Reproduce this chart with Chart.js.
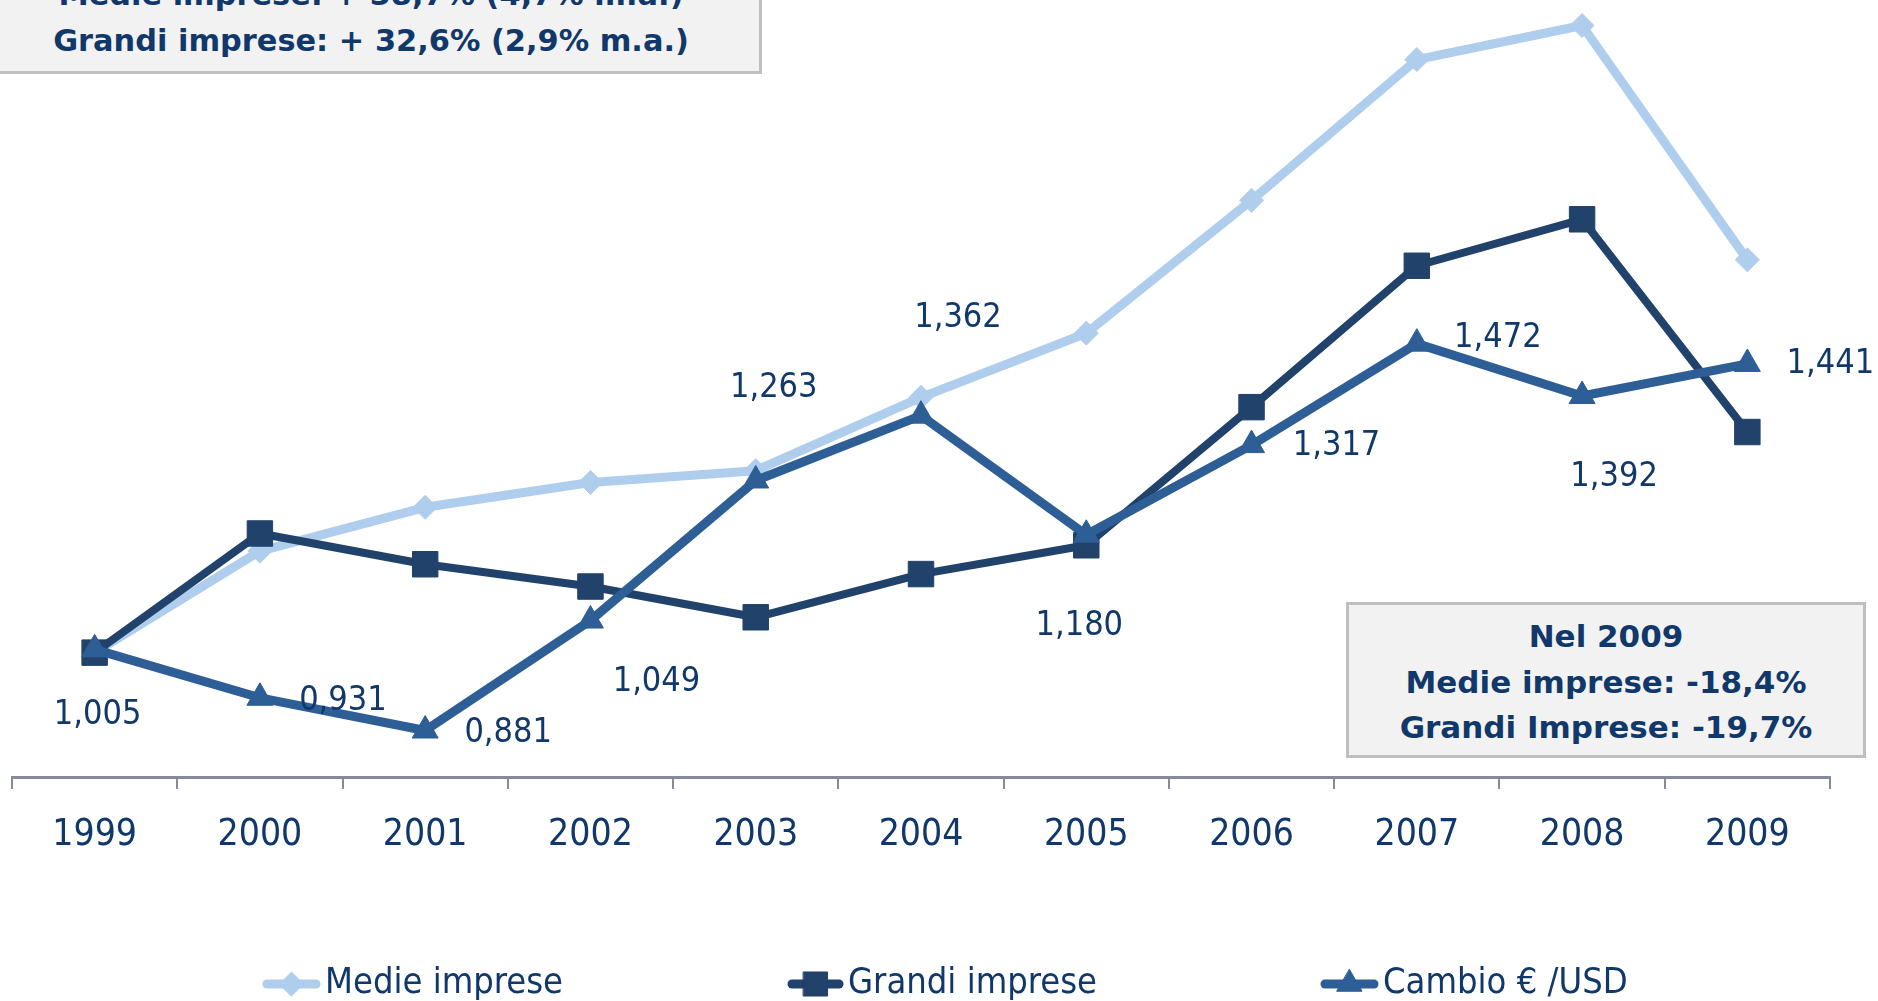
<!DOCTYPE html>
<html><head><meta charset="utf-8">
<script src="https://cdn.jsdelivr.net/npm/chart.js@4.4.1/dist/chart.umd.min.js"></script>
<style>
html,body{margin:0;padding:0;background:#fff;overflow:hidden;}
#wrap{position:relative;width:1878px;height:1001px;overflow:hidden;}
canvas{position:absolute;left:0;top:0;}
.box{position:absolute;box-sizing:border-box;background:#F2F2F2;border:3px solid #BFBFBF;color:#10386B;
 font-family:'DejaVu Sans',sans-serif;font-weight:bold;text-align:center;line-height:45.5px;white-space:nowrap;}
</style></head>
<body><div id="wrap"><canvas id="c" width="1878" height="1001"></canvas>
<div class="box" id="boxTL" style="left:-20px;top:-40px;width:782px;height:114px;font-size:30.4px;padding-top:9px;">Medie imprese: + 58,7% (4,7% m.a.)<br>Grandi imprese: + 32,6% (2,9% m.a.)</div>
<div class="box" id="boxBR" style="left:1346px;top:602px;width:520px;height:156px;font-size:31px;padding-top:9px;">Nel 2009<br>Medie imprese: -18,4%<br>Grandi Imprese: -19,7%</div>
</div>
<script>
// ---- data ----
const years = ['1999','2000','2001','2002','2003','2004','2005','2006','2007','2008','2009'];
const medie = [1.000,1.155,1.222,1.260,1.278,1.390,1.488,1.691,1.906,1.958,1.600];
const grandi = [1.000,1.182,1.135,1.101,1.054,1.120,1.164,1.375,1.591,1.662,1.337];
const cambio = [1.005,0.931,0.881,1.049,1.263,1.362,1.180,1.317,1.472,1.392,1.441];
const seriesNames = ['Medie imprese','Grandi imprese','Cambio € /USD'];

// ---- styles ----
const textColor = '#10386B';
const fam = "'DejaVu Sans Condensed','DejaVu Sans',sans-serif";
const colors = ['#AFCDEC','#21426A','#2E5E96'];
const axisColor = '#858A9C';
// label offsets (px) relative to each Cambio point
const labelOffsets = [[3,66],[83,3],[83,3],[66,62],[18,-92],[37,-97],[-7,91],[85,1],[81,-5],[32,81],[83,0]];
const legendLayout = [
  {x0:267,x1:316,tx:325,style:'rectRot',r:12},
  {x0:792,x1:839,tx:848,style:'rect',r:17},
  {x0:1325,x1:1374,tx:1383,style:'triangle',r:14.5}
];
const legendY = 984;

const fmt = v => v.toFixed(3).replace('.', ',');

const labelPlugin = {
  id:'cambioLabels',
  afterDatasetsDraw(chart){
    const meta = chart.getDatasetMeta(2);
    const ctx = chart.ctx;
    ctx.save();
    ctx.font = '34px ' + fam;
    ctx.fillStyle = textColor; ctx.textAlign = 'center'; ctx.textBaseline = 'middle';
    meta.data.forEach((pt,i)=>{
      const o = labelOffsets[i];
      ctx.fillText(fmt(cambio[i]), pt.x + o[0], pt.y + o[1]);
    });
    ctx.restore();
  }
};

const legendPlugin = {
  id:'customLegend',
  afterDraw(chart){
    const ctx = chart.ctx;
    ctx.save();
    chart.data.datasets.forEach((ds,i)=>{
      const L = legendLayout[i];
      ctx.strokeStyle = ds.borderColor; ctx.fillStyle = ds.borderColor;
      ctx.lineWidth = 9; ctx.lineCap = 'round';
      ctx.beginPath(); ctx.moveTo(L.x0, legendY); ctx.lineTo(L.x1, legendY); ctx.stroke();
      ctx.lineWidth = 1;
      Chart.helpers.drawPoint(ctx, {pointStyle:L.style, radius:L.r, borderWidth:1, rotation:0}, (L.x0+L.x1)/2, legendY);
      ctx.font = '36px ' + fam;
      ctx.fillStyle = textColor; ctx.textAlign = 'left'; ctx.textBaseline = 'middle';
      ctx.fillText(ds.label, L.tx, legendY);
    });
    ctx.restore();
  }
};

function mkDs(label, data, color, style, r, bw, order){
  return {label, data, borderColor:color, backgroundColor:color, borderWidth:bw,
    pointStyle:style, pointRadius:r, pointHoverRadius:r, pointBackgroundColor:color, pointBorderColor:color,
    pointBorderWidth:1, borderJoinStyle:'round', tension:0, order, clip:false};
}

new Chart(document.getElementById('c'), {
  type:'line',
  data:{
    labels: years,
    datasets:[
      mkDs(seriesNames[0], medie, colors[0], 'rectRot', 12, 9, 3),
      mkDs(seriesNames[1], grandi, colors[1], 'rect', 18, 8, 2),
      mkDs(seriesNames[2], cambio, colors[2], 'triangle', 15, 9, 1)
    ]
  },
  options:{
    responsive:false, animation:false, devicePixelRatio:1,
    layout:{padding:{left:12,right:48,top:0,bottom:0}, autoPadding:false},
    plugins:{legend:{display:false}, tooltip:{enabled:false}},
    scales:{
      x:{type:'category', offset:true,
        grid:{offset:true, drawOnChartArea:false, drawTicks:true, tickLength:12, color:axisColor, lineWidth:2},
        border:{display:true, color:axisColor, width:3},
        ticks:{color:textColor, font:{family:fam, size:37}, padding:24, maxRotation:0, autoSkip:false},
        afterFit(s){ s.height = 224; }
      },
      y:{display:false, min:0.81, max:1.997}
    }
  },
  plugins:[labelPlugin, legendPlugin]
});
</script>
</body></html>
